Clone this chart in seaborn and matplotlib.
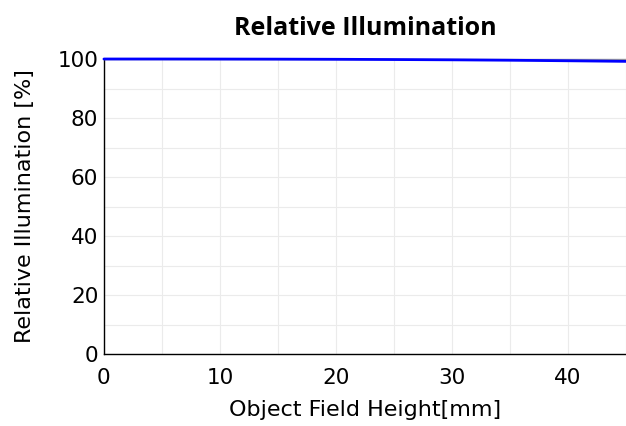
import numpy as np
import pandas as pd
import matplotlib
matplotlib.use("Agg")
import matplotlib.pyplot as plt
import seaborn as sns
from matplotlib import font_manager
from matplotlib.ticker import MultipleLocator

# Relative illumination vs object field height
field_mm = [0, 5, 10, 15, 20, 25, 30, 35, 40, 45]
rel_illum = [100.0, 100.0, 99.98, 99.95, 99.9, 99.82, 99.72, 99.58, 99.4, 99.2]

df = pd.DataFrame({"Field": field_mm, "RI": rel_illum})

sns.set_style("white")
plt.rcParams['font.family'] = ['DejaVu Sans']
plt.rcParams['text.color'] = 'black'
plt.rcParams['axes.labelcolor'] = 'black'
plt.rcParams['xtick.labelcolor'] = 'black'
plt.rcParams['ytick.labelcolor'] = 'black'

# pick the regular-width Open Sans Bold file for the title
title_font = None
for f in font_manager.fontManager.ttflist:
    if f.name == "Open Sans" and f.weight in (700, "bold") and f.stretch == "normal" \
            and f.style == "normal" and "ondensed" not in f.fname:
        title_font = font_manager.FontProperties(fname=f.fname, size=18)
        break
if title_font is None:
    title_font = font_manager.FontProperties(family="DejaVu Sans", weight="bold", size=16)

fig = plt.figure(figsize=(6.26, 4.26), dpi=100)
ax = fig.add_axes([0.166, 0.169, 0.834, 0.6925])

sns.lineplot(data=df, x="Field", y="RI", color="#0000ff", linewidth=2.0, ax=ax,
             zorder=5, clip_on=False)

ax.set_xlim(0, 45)
ax.set_ylim(0, 100)
ax.xaxis.set_major_locator(MultipleLocator(10))
ax.xaxis.set_minor_locator(MultipleLocator(5))
ax.yaxis.set_major_locator(MultipleLocator(20))
ax.yaxis.set_minor_locator(MultipleLocator(10))
ax.grid(True, which="both", color="#ebebeb", linewidth=0.8)
ax.set_axisbelow(True)
ax.tick_params(which="both", direction="in", color="#777777", length=6, width=0.8,
               labelsize=15.5)
ax.tick_params(axis="x", pad=10)
ax.tick_params(axis="y", pad=4)
ax.tick_params(which="minor", length=4)

for s in ["left", "bottom"]:
    ax.spines[s].set_color("black")
    ax.spines[s].set_linewidth(1.0)
ax.spines["top"].set_color("#999999")
ax.spines["top"].set_linewidth(1.0)
ax.spines["right"].set_visible(False)

ax.set_xlabel("Object Field Height[mm]", fontsize=16, labelpad=9)
ax.set_ylabel("Relative Illumination [%]", fontsize=16, labelpad=16)
ax.set_title("Relative Illumination", fontproperties=title_font, pad=17)

fig.savefig("out.png", dpi=100)
